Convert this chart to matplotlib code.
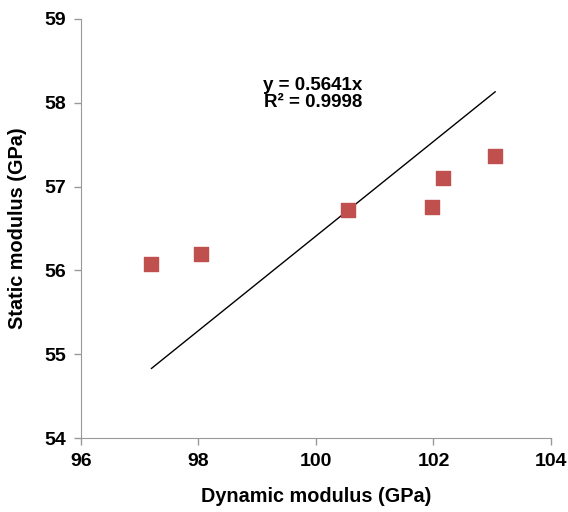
import matplotlib.pyplot as plt

plt.rcParams['font.family'] = ['Liberation Sans', 'DejaVu Sans']
plt.rcParams['font.weight'] = 'bold'

# data
dynamic = [97.2, 98.05, 100.55, 101.97, 102.17, 103.05]
static = [56.08, 56.19, 56.72, 56.76, 57.1, 57.36]
slope = 0.5641
fit_x = [97.2, 103.05]
x_ticks = [96, 98, 100, 102, 104]
y_ticks = [54, 55, 56, 57, 58, 59]

fig = plt.figure(figsize=(5.68, 5.12), dpi=100)
ax = fig.add_axes([0.1426, 0.1445, 0.8274, 0.8185])

ax.plot(fit_x, [slope * v for v in fit_x], color="black", lw=1)
ax.scatter(dynamic, static, marker="s", s=90, color="#C0504D", zorder=3)

ax.text(99.95, 58.1, "y = 0.5641x\nR² = 0.9998", ha="center", va="center",
        fontsize=13.5, fontweight="bold", linespacing=1.0)

ax.set_xlim(96, 104)
ax.set_ylim(54, 59)
ax.set_xticks(x_ticks)
ax.set_yticks(y_ticks)
ax.tick_params(labelsize=14, color="#999999", length=5, width=1, pad=6)
for side in ["top", "right"]:
    ax.spines[side].set_visible(False)
for side in ["left", "bottom"]:
    ax.spines[side].set_color("#999999")
for lab in ax.get_xticklabels() + ax.get_yticklabels():
    lab.set_fontweight("bold")

ax.set_xlabel("Dynamic modulus (GPa)", fontsize=14.3, fontweight="bold", labelpad=12)
ax.set_ylabel("Static modulus (GPa)", fontsize=14.3, fontweight="bold", labelpad=12)

fig.savefig("out.png", dpi=100)
